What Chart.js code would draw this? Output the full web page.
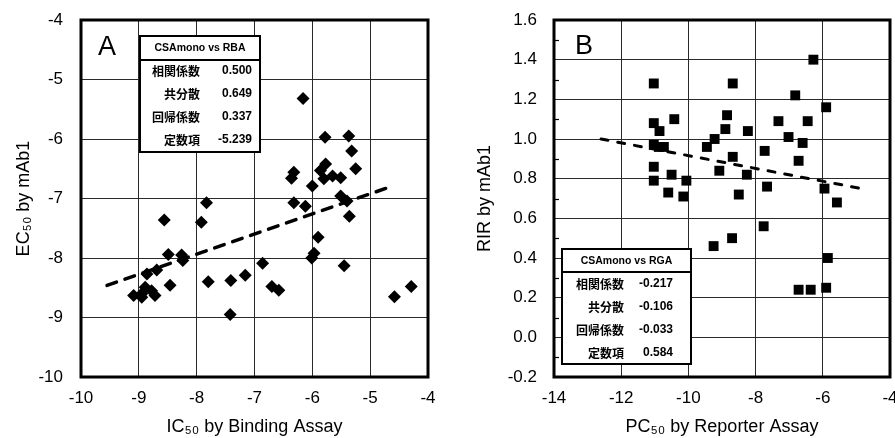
<!DOCTYPE html>
<html><head><meta charset="utf-8">
<script src="https://cdn.jsdelivr.net/npm/chart.js@4.4.1/dist/chart.umd.min.js"></script>
<style>
html,body{margin:0;padding:0;background:#fff;overflow:hidden;width:895px;height:438px;}
#wa{position:absolute;left:0;top:0;width:450px;height:438px;}
#wb{position:absolute;left:450px;top:0;width:460px;height:438px;}
</style></head><body>
<div id="wa"><canvas id="ca"></canvas></div>
<div id="wb"><canvas id="cb"></canvas></div>
<script>
// ---------- Panel A data ----------
const aX = [-6.16,-5.78,-5.37,-5.32,-5.25,-6.32,-6.36,-5.77,-5.86,-5.80,-5.65,-5.51,-6.00,-6.32,-6.12,-5.51,-5.40,-5.36,-5.90,-5.97,-6.01,-5.45,-6.86,-6.70,-6.58,-4.58,-4.29,-8.56,-7.83,-7.92,-8.49,-8.26,-8.24,-8.46,-8.69,-8.86,-9.09,-8.95,-8.89,-8.78,-8.72,-8.95,-7.80,-7.41,-7.16,-7.42];
const aY = [-5.32,-5.97,-5.95,-6.20,-6.50,-6.56,-6.66,-6.42,-6.53,-6.67,-6.62,-6.65,-6.79,-7.07,-7.13,-6.96,-7.04,-7.30,-7.65,-7.92,-8.00,-8.13,-8.09,-8.48,-8.54,-8.65,-8.48,-7.36,-7.07,-7.40,-7.94,-7.95,-8.04,-8.46,-8.20,-8.27,-8.63,-8.60,-8.49,-8.55,-8.63,-8.66,-8.40,-8.38,-8.29,-8.95];
const aTrendX = [-9.55, -4.70];
const aTrendY = [-8.46, -6.82];
const aXTicks = [-10,-9,-8,-7,-6,-5,-4];
const aYTicks = [-10,-9,-8,-7,-6,-5,-4];
const aTitle = 'CSAmono vs RBA';
const aStats = ['0.500','0.649','0.337','-5.239'];

// ---------- Panel B data ----------
const bX = [-11.03,-11.03,-10.86,-10.42,-11.03,-10.88,-10.73,-11.03,-11.03,-10.50,-10.60,-10.15,-10.06,-9.45,-9.22,-9.08,-9.25,-8.85,-8.90,-8.68,-8.68,-8.70,-8.50,-8.23,-8.26,-7.73,-7.66,-7.76,-7.32,-7.02,-6.82,-6.72,-6.60,-6.45,-6.28,-5.90,-5.95,-5.58,-5.85,-5.90,-6.36,-6.72];
const bY = [1.28,1.08,1.04,1.10,0.97,0.96,0.96,0.86,0.79,0.82,0.73,0.71,0.79,0.96,1.00,0.84,0.46,1.12,1.05,1.28,0.91,0.50,0.72,1.04,0.82,0.94,0.76,0.56,1.09,1.01,1.22,0.89,0.98,1.09,1.40,1.16,0.75,0.68,0.40,0.25,0.24,0.24];
const bTrendX = [-12.6, -4.85];
const bTrendY = [1.00, 0.75];
const bXTicks = [-14,-12,-10,-8,-6,-4];
const bYTicks = [-0.2,0.0,0.2,0.4,0.6,0.8,1.0,1.2,1.4,1.6];
const bMinorTicks = [-0.1,0.1,0.3,0.5,0.7,0.9,1.1,1.3,1.5];
const bTitle = 'CSAmono vs RGA';
const bStats = ['-0.217','-0.106','-0.033','0.584'];

const statLabels = ['相関係数','共分散','回帰係数','定数項'];

const FONT = 'Liberation Sans, Arial, sans-serif';
const GRID = '#2a2a2a';

const decoPlugin = {
  id: 'deco',
  afterDraw(chart, args, o) {
    const ctx = chart.ctx;
    const ca = chart.chartArea;
    ctx.save();
    // minor ticks
    if (o.minor) {
      const ys = chart.scales.y;
      ctx.strokeStyle = '#000'; ctx.lineWidth = 1.2;
      o.minor.forEach(v => {
        const py = Math.round(ys.getPixelForValue(v)) + 0.5;
        ctx.beginPath(); ctx.moveTo(ca.left, py); ctx.lineTo(ca.left + 5, py); ctx.stroke();
      });
    }
    // frame
    ctx.strokeStyle = '#000'; ctx.lineWidth = 3;
    ctx.strokeRect(ca.left, ca.top, ca.right - ca.left, ca.bottom - ca.top);
    // letter
    ctx.fillStyle = '#000';
    ctx.font = '27px ' + FONT;
    ctx.textAlign = 'center'; ctx.textBaseline = 'middle';
    ctx.fillText(o.letter, ca.left + o.lx, ca.top + o.ly);
    // table
    const t = o.table;
    const bx = ca.left + t.x, by = ca.top + t.y;
    ctx.fillStyle = '#fff';
    ctx.fillRect(bx, by, t.w, t.h);
    ctx.strokeStyle = '#000'; ctx.lineWidth = 2;
    ctx.strokeRect(bx, by, t.w, t.h);
    ctx.beginPath(); ctx.moveTo(bx, by + t.hdr); ctx.lineTo(bx + t.w, by + t.hdr); ctx.stroke();
    ctx.fillStyle = '#000';
    ctx.font = 'bold 10.5px ' + FONT;
    ctx.textAlign = 'center';
    ctx.fillText(t.title, bx + t.w / 2, by + t.hdr / 2 + 0.5);
    t.rows.forEach((ry, i) => {
      ctx.textAlign = 'right';
      ctx.font = 'bold 12px "Noto Sans CJK JP"';
      ctx.fillText(statLabels[i], bx + t.labR, by + ry);
      ctx.font = 'bold 12px ' + FONT;
      ctx.fillText(t.vals[i], bx + t.valR, by + ry);
    });
    ctx.restore();
  }
};

function pts(xs, ys) { return xs.map((x, i) => ({x: x, y: ys[i]})); }

function makeChart(id, cfg) {
  return new Chart(document.getElementById(id), {
    type: 'scatter',
    data: {
      datasets: [
        {
          type: 'line', data: pts(cfg.tx, cfg.ty), borderColor: '#000',
          borderWidth: cfg.dashW, borderDash: cfg.dash, pointRadius: 0, showLine: true, fill: false, order: 2,
          borderCapStyle: 'round'
        },
        {
          data: pts(cfg.px, cfg.py), pointStyle: cfg.pstyle, pointRadius: cfg.prad,
          backgroundColor: '#000', borderColor: '#000', borderWidth: 0, order: 1
        }
      ]
    },
    options: {
      responsive: true, maintainAspectRatio: false, animation: false, devicePixelRatio: 1,
      layout: { padding: { left: 0, top: 20, right: cfg.padR, bottom: 0 } },
      plugins: { legend: { display: false }, tooltip: { enabled: false }, deco: cfg.deco },
      scales: {
        x: {
          type: 'linear', min: cfg.xmin, max: cfg.xmax,
          afterBuildTicks: s => { s.ticks = cfg.xticks.map(v => ({value: v})); },
          ticks: { font: { family: FONT, size: 17 }, color: '#000', padding: 11, maxRotation: 0,
                   callback: v => String(v) },
          grid: { color: GRID, lineWidth: 1, drawTicks: false },
          border: { display: false },
          title: { display: true, text: cfg.xtitle, color: '#000', font: { family: FONT, size: 18 }, padding: { top: 0, bottom: 0 } },
          afterFit: s => { s.height = 61; s.paddingLeft = 0; s.paddingRight = 0; }
        },
        y: {
          type: 'linear', min: cfg.ymin, max: cfg.ymax,
          afterBuildTicks: s => { s.ticks = cfg.yticks.map(v => ({value: v})); },
          ticks: { font: { family: FONT, size: 17 }, color: '#000', padding: cfg.ypad,
                   callback: cfg.yfmt },
          grid: { color: GRID, lineWidth: 1, drawTicks: false },
          border: { display: false },
          title: { display: true, text: cfg.ytitle, color: '#000', font: { family: FONT, size: 18 }, padding: { top: cfg.ytp, bottom: 0 } },
          afterFit: s => { s.width = cfg.yw; s.paddingTop = 0; s.paddingBottom = 0; }
        }
      }
    },
    plugins: [decoPlugin]
  });
}

makeChart('ca', {
  px: aX, py: aY, tx: aTrendX, ty: aTrendY, pstyle: 'rectRot', prad: 6.5,
  dash: [10, 9], dashW: 3.5,
  xmin: -10, xmax: -4, ymin: -10, ymax: -4, xticks: aXTicks, yticks: aYTicks,
  yfmt: v => String(v), ypad: 18, yw: 81, ytp: 13, padR: 22,
  xtitle: 'IC₅₀ by Binding Assay', ytitle: 'EC₅₀ by mAb1',
  deco: { letter: 'A', lx: 26, ly: 28,
    table: { x: 59, y: 16, w: 120, h: 116, hdr: 24, title: aTitle, vals: aStats,
             rows: [35, 58, 81, 104], labR: 60, valR: 112 } }
});

makeChart('cb', {
  px: bX, py: bY, tx: bTrendX, ty: bTrendY, pstyle: 'rect', prad: 7,
  dash: [7, 10], dashW: 3,
  xmin: -14, xmax: -4, ymin: -0.2, ymax: 1.6, xticks: bXTicks, yticks: bYTicks,
  yfmt: v => (Math.abs(v) < 1e-9 ? 0 : v).toFixed(1), ypad: 17, yw: 104, ytp: 24, padR: 20,
  xtitle: 'PC₅₀ by Reporter Assay', ytitle: 'RIR by mAb1',
  deco: { letter: 'B', lx: 30, ly: 27, minor: bMinorTicks,
    table: { x: 8, y: 229, w: 129, h: 115, hdr: 23, title: bTitle, vals: bStats,
             rows: [35, 58, 81, 104], labR: 62, valR: 111 } }
});
</script>
</body></html>
